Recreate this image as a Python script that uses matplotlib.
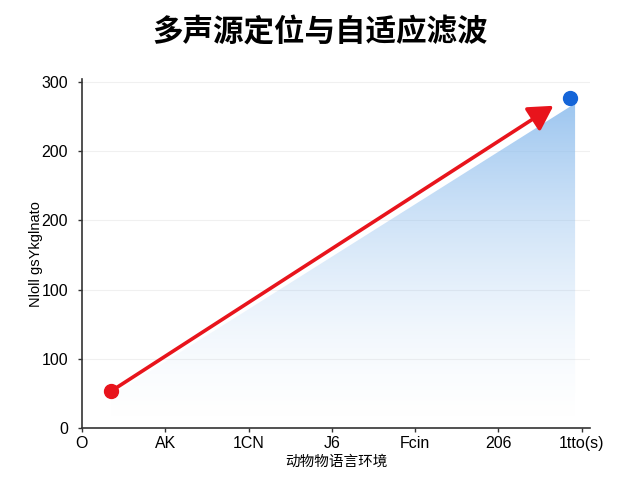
import matplotlib
matplotlib.use("Agg")
import matplotlib.pyplot as plt
import numpy as np
from matplotlib.patches import Polygon

plt.rcParams['font.family'] = ['Noto Sans CJK SC', 'DejaVu Sans']

# ---- data ----
x_ticks = [0, 1, 2, 3, 4, 5, 6]
x_labels = ["O", "AK", "1CN", "J6", "Fcin", "206", "1tto(s)"]
y_ticks = [0, 60, 120, 180, 240, 300]
y_labels = ["0", "100", "100", "200", "200", "300"]
start_pt = (0.35, 32)
end_pt = (5.86, 286)
arrow_tip = (5.66, 279)
fill_x = [0.35, 5.92]
fill_y = [28, 281]

title = "多声源定位与自适应滤波"
xlabel = "动物物语言环境"
ylabel = "Nloll gsYkglnato"

fig = plt.figure(figsize=(6.4, 4.8), dpi=100)
ax = fig.add_axes([0.128, 0.108, 0.794, 0.727])
ax.set_xlim(0, 6.1)
ax.set_ylim(0, 302)

# gradient fill
poly = Polygon([(fill_x[0], fill_y[0]), (fill_x[1], fill_y[1]),
                (fill_x[1], 0), (fill_x[0], 0)], closed=True,
               facecolor='none', edgecolor='none')
ax.add_patch(poly)
n = 256
grad = np.zeros((n, 1, 4))
base = np.array([0.55, 0.74, 0.93])
t = np.linspace(0, 1, n)[:, None]
alpha = t ** 1.6 * 0.85
grad[:, 0, :3] = base
grad[:, 0, 3] = alpha[:, 0]
im = ax.imshow(grad, extent=[fill_x[0], fill_x[1], 0, fill_y[1]],
               origin='lower', aspect='auto', zorder=1)
im.set_clip_path(poly)

# grid
for yt in y_ticks[1:]:
    ax.axhline(yt, color='#f0f0f0', lw=0.8, zorder=0)

# arrow
ax.annotate("", xy=arrow_tip, xytext=start_pt,
            arrowprops=dict(arrowstyle='-|>,head_length=0.7,head_width=0.4',
                            color='#e8141c', lw=2.6,
                            mutation_scale=21, shrinkA=0, shrinkB=0),
            zorder=4)
ax.scatter([start_pt[0]], [start_pt[1]], s=100, color='#e8141c', zorder=5)
ax.scatter([end_pt[0]], [end_pt[1]], s=100, color='#1565d8', zorder=5)

ax.set_xticks(x_ticks)
ax.set_xticklabels(x_labels, fontsize=11.5, family=['Liberation Sans'])
ax.set_yticks(y_ticks)
ax.set_yticklabels(y_labels, fontsize=11.5, family=['Liberation Sans'])
ax.tick_params(axis='x', length=3, width=1, color='#333333', pad=3)
ax.tick_params(axis='y', length=3, width=1, color='#333333', pad=7)
for s in ['top', 'right']:
    ax.spines[s].set_visible(False)
for s in ['left', 'bottom']:
    ax.spines[s].set_color('#333333')
    ax.spines[s].set_linewidth(1.2)

ax.set_xlabel(xlabel, fontsize=10.5, labelpad=2)
ax.set_ylabel(ylabel, fontsize=10.5, family=['Liberation Sans'])
ax.yaxis.set_label_coords(-0.076, 0.5)
fig.text(0.5, 0.933, title, ha='center', va='center', fontsize=22,
         fontweight='bold')

fig.savefig("out.png", dpi=100, facecolor='white')
